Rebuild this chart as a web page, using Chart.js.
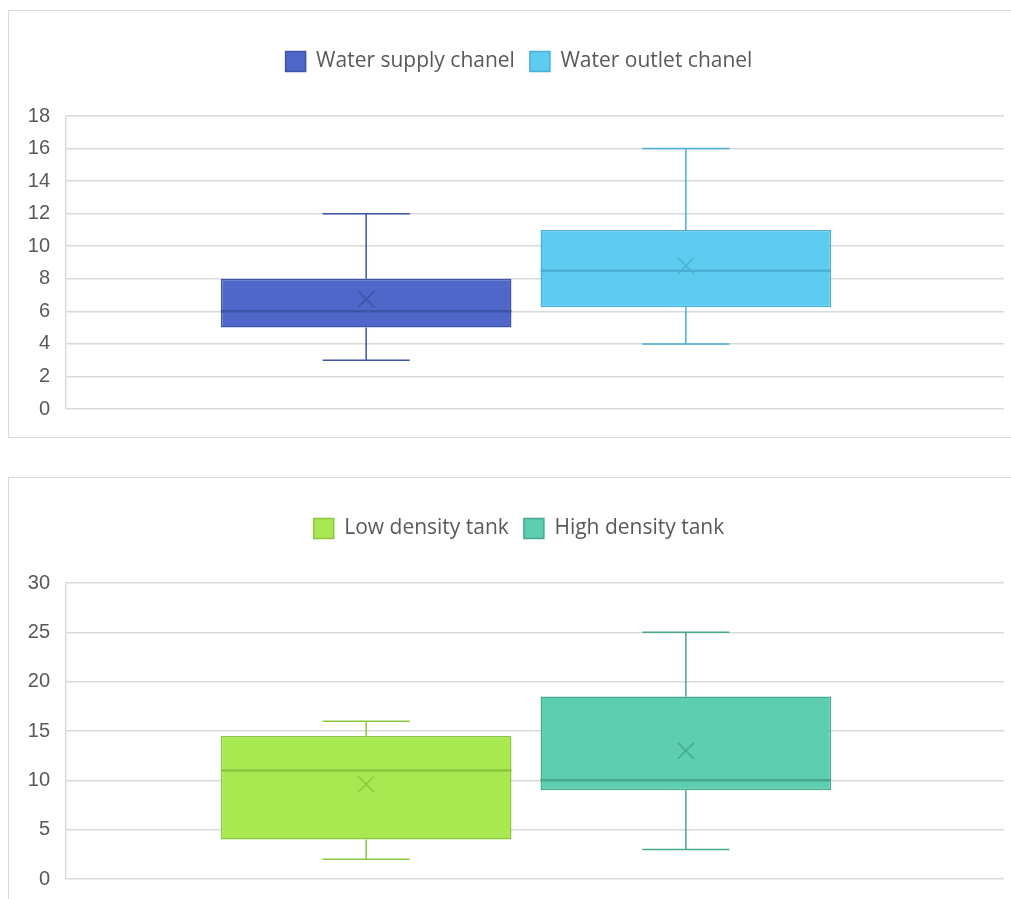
<!DOCTYPE html>
<html>
<head>
<meta charset="utf-8">
<script src="https://cdn.jsdelivr.net/npm/chart.js@4.4.0/dist/chart.umd.min.js"></script>
<style>
  html, body { margin: 0; padding: 0; background: #fff; overflow: hidden; }
  body { width: 1011px; height: 899px; position: relative; }
  .panel { position: absolute; left: 8px; width: 1100px; border: 1px solid #d9d9d9; box-sizing: border-box; }
  canvas { position: absolute; left: 0; }
</style>
</head>
<body>
<div class="panel" style="top:10px;height:428px;"></div>
<div class="panel" style="top:477px;height:500px;"></div>
<canvas id="chartTop" width="1011" height="437" style="top:0px;"></canvas>
<canvas id="chartBottom" width="1011" height="432" style="top:467px;"></canvas>
<script>
// --- Data: top chart (water channels) ---
const namesTop = ['Water supply chanel', 'Water outlet chanel'];
const minTop = [3, 4];
const q1Top = [5, 6.25];
const medianTop = [6, 8.5];
const q3Top = [8, 11];
const maxTop = [12, 16];
const meanTop = [6.75, 8.8];
const yMaxTop = 18, yStepTop = 2;

// --- Data: bottom chart (tanks) ---
const namesBottom = ['Low density tank', 'High density tank'];
const minBottom = [2, 3];
const q1Bottom = [4, 9];
const medianBottom = [11, 10];
const q3Bottom = [14.5, 18.5];
const maxBottom = [16, 25];
const meanBottom = [9.6, 13];
const yMaxBottom = 30, yStepBottom = 5;

const fillsTop = ['#4e67c8', '#5ecbf1'];
const linesTop = ['#3e54a8', '#49b0d3'];
const fillsBottom = ['#a8e952', '#5dceaf'];
const linesBottom = ['#8cc63f', '#46a88c'];

// whiskers, median and mean marker drawn on top of the floating bars
const boxExtras = {
    id: 'boxExtras',
    afterDatasetsDraw(chart) {
        const ctx = chart.ctx;
        const y = chart.scales.y;
        chart.data.datasets.forEach((ds, i) => {
            const bar = chart.getDatasetMeta(i).data[0];
            const x = bar.x, w = bar.width;
            const s = ds.stats;
            ctx.save();
            ctx.strokeStyle = ds.borderColor;
            ctx.lineWidth = 1.5;
            const cap = w * 0.15;
            ctx.beginPath();
            // upper whisker
            ctx.moveTo(x, y.getPixelForValue(s.q3));
            ctx.lineTo(x, y.getPixelForValue(s.max));
            ctx.moveTo(x - cap, y.getPixelForValue(s.max));
            ctx.lineTo(x + cap, y.getPixelForValue(s.max));
            // lower whisker
            ctx.moveTo(x, y.getPixelForValue(s.q1));
            ctx.lineTo(x, y.getPixelForValue(s.min));
            ctx.moveTo(x - cap, y.getPixelForValue(s.min));
            ctx.lineTo(x + cap, y.getPixelForValue(s.min));
            ctx.stroke();
            // median
            ctx.lineWidth = 2.5;
            ctx.beginPath();
            ctx.moveTo(x - w / 2, y.getPixelForValue(s.median));
            ctx.lineTo(x + w / 2, y.getPixelForValue(s.median));
            ctx.stroke();
            // mean (x marker)
            const my = y.getPixelForValue(s.mean);
            ctx.lineWidth = 1.5;
            ctx.beginPath();
            ctx.moveTo(x - 8, my - 8); ctx.lineTo(x + 8, my + 8);
            ctx.moveTo(x + 8, my - 8); ctx.lineTo(x - 8, my + 8);
            ctx.stroke();
            ctx.restore();
        });
    }
};

// extra space below the legend
const legendGap = {
    id: 'legendGap',
    beforeInit(chart) {
        const fit = chart.legend.fit;
        chart.legend.fit = function() {
            fit.bind(chart.legend)();
            this.height += 34;
        };
    }
};

// the box group and legend sit a little off the plot centre, as in the spreadsheet
const shiftGroup = {
    id: 'shiftGroup',
    afterLayout(chart) {
        const xs = chart.scales.x;
        xs.right -= 18;
        xs.width -= 18;
        xs.configure();
        chart.legend.left += 17;
        chart.legend.right += 17;
    }
};

function makeBoxChart(id, names, mins, q1s, medians, q3s, maxs, means, fills, lines, yMax, yStep, padBottom) {
    const datasets = names.map((name, i) => ({
        label: name,
        data: [[q1s[i], q3s[i]]],
        backgroundColor: fills[i],
        borderColor: lines[i],
        borderWidth: 1.5,
        borderSkipped: false,
        categoryPercentage: 0.695,
        barPercentage: 0.909,
        stats: { min: mins[i], q1: q1s[i], median: medians[i], q3: q3s[i], max: maxs[i], mean: means[i] }
    }));

    new Chart(document.getElementById(id), {
        type: 'bar',
        data: { labels: [''], datasets: datasets },
        options: {
            responsive: false,
            animation: false,
            layout: { padding: { top: 36, right: 7, bottom: padBottom, left: 0 } },
            scales: {
                x: { display: false },
                y: {
                    min: 0,
                    max: yMax,
                    ticks: {
                        stepSize: yStep,
                        padding: 16,
                        color: '#595959',
                        font: { family: 'Liberation Sans', size: 20 }
                    },
                    grid: { color: '#d9d9d9', lineWidth: 1.5, drawTicks: false },
                    border: { color: '#d9d9d9', width: 1.5 },
                    afterFit(scale) {
                        scale.width = 66;
                        scale.paddingTop = 0;
                        scale.paddingBottom = 0;
                    }
                }
            },
            plugins: {
                legend: {
                    position: 'top',
                    labels: {
                        boxWidth: 20,
                        boxHeight: 20,
                        padding: 15,
                        color: '#595959',
                        font: { family: 'Open Sans', size: 21 }
                    }
                },
                tooltip: { enabled: false }
            }
        },
        plugins: [boxExtras, legendGap, shiftGroup]
    });
}

makeBoxChart('chartTop', namesTop, minTop, q1Top, medianTop, q3Top, maxTop, meanTop,
    fillsTop, linesTop, yMaxTop, yStepTop, 28);
makeBoxChart('chartBottom', namesBottom, minBottom, q1Bottom, medianBottom, q3Bottom, maxBottom, meanBottom,
    fillsBottom, linesBottom, yMaxBottom, yStepBottom, 20);
</script>
</body>
</html>
